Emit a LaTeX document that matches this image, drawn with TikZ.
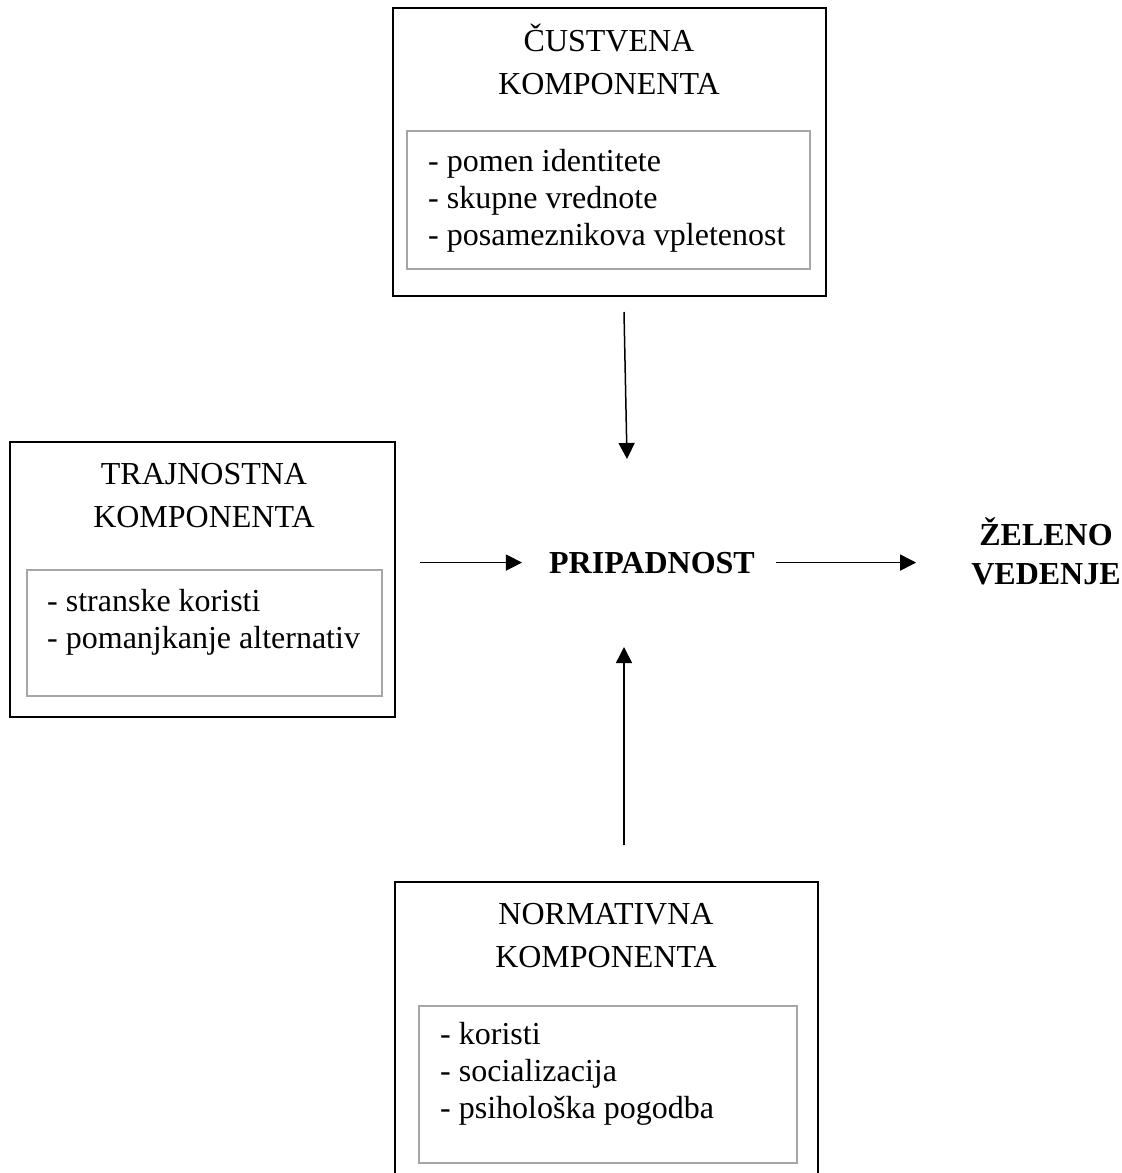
\documentclass[tikz,border=0pt]{standalone}
\usepackage{fontspec}
\setmainfont{Liberation Serif}
\usetikzlibrary{positioning,arrows.meta}
\definecolor{framegray}{RGB}{166,166,166}

\begin{document}
\begin{tikzpicture}[x=1pt,y=-1pt,>={Triangle[length=16pt,width=16pt]},
  outerbox/.style={draw=black,line width=2.6pt,inner sep=0pt},
  itembox/.style={draw=framegray,line width=2.2pt,inner sep=0pt},
  title/.style={font=\fontsize{32}{43}\selectfont,align=center,inner sep=0pt,anchor=base},
  items/.style={font=\fontsize{32}{36.7}\selectfont,align=left,inner sep=0pt,anchor=base west},
  core/.style={font=\fontsize{32}{39}\selectfont\bfseries,align=center,inner sep=0pt,anchor=base},
  link/.style={->,line width=1.5pt}]
  \useasboundingbox (0,0) rectangle (1122,1173);
  % three components (text nodes sit on their last baseline)
  \node[outerbox,minimum width=433pt,minimum height=288pt] (cust) at (609.5,152) {};
  \node[itembox,minimum width=403pt,minimum height=138pt] (custl) at (608.5,200) {};
  \node[title] (custt) at (609,94) {ČUSTVENA\\KOMPONENTA};
  \node[items] (custi) at (428,245) {- pomen identitete\\- skupne vrednote\\- posameznikova vpletenost};

  \node[outerbox,minimum width=385pt,minimum height=275pt] (traj) at (202.5,579.5) {};
  \node[itembox,minimum width=355pt,minimum height=126pt] (trajl) at (204.5,633) {};
  \node[title] (trajt) at (204,527) {TRAJNOSTNA\\KOMPONENTA};
  \node[items] (traji) at (47,648) {- stranske koristi\\- pomanjkanje alternativ};

  \node[outerbox,minimum width=423pt,minimum height=308pt] (norm) at (606.5,1036) {};
  \node[itembox,minimum width=378pt,minimum height=157pt] (norml) at (608,1084.5) {};
  \node[title] (normt) at (606,967) {NORMATIVNA\\KOMPONENTA};
  \node[items] (normi) at (440,1118) {- koristi\\- socializacija\\- psihološka pogodba};

  % centre and outcome
  \node[core] (prip) at (652,573) {PRIPADNOST};
  \node[core] (zel) at (1046,584) {ŽELENO\\VEDENJE};

  \coordinate (custout) at (624,312);
  \coordinate (pripin) at (627,459);
  \coordinate (normout) at (624,845);
  \coordinate (pripup) at (624,647);
  \draw[link] (custout) -- (pripin);
  \draw[link] (normout) -- (pripup);
  \draw[link,shorten <=24pt,shorten >=27pt] (traj.east |- prip) -- (prip.west);
  \draw[link,shorten <=21pt,shorten >=55pt] (prip.east) -- (zel.west |- prip);
\end{tikzpicture}
\end{document}
